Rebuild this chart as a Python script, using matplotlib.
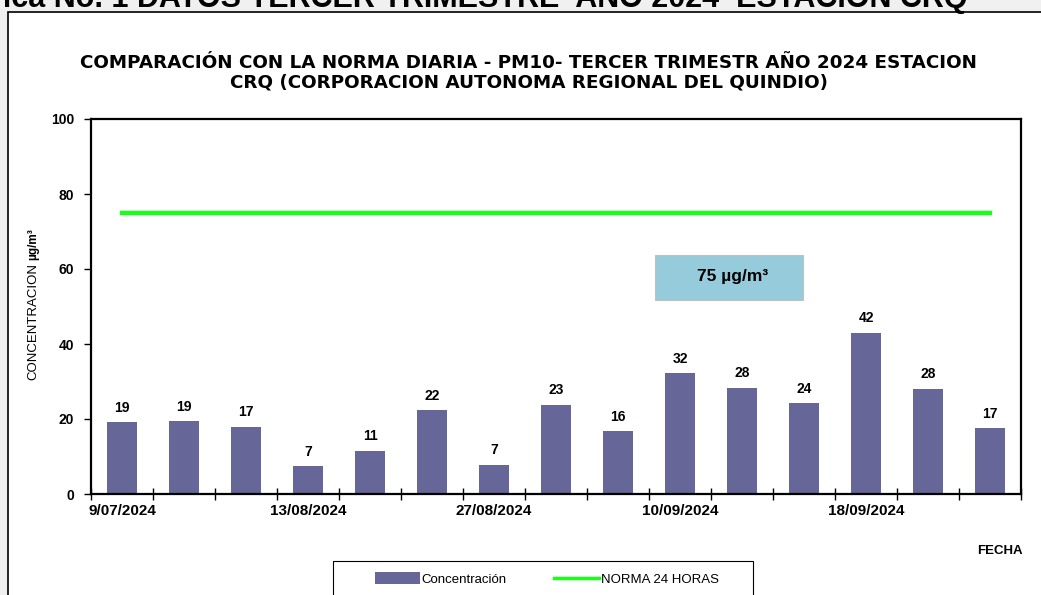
import numpy as np
import matplotlib.pyplot as plt
from matplotlib.patches import Rectangle
from matplotlib.lines import Line2D

# data
fechas = ['9/07/2024', '', '', '13/08/2024', '', '', '27/08/2024', '', '',
          '10/09/2024', '', '', '18/09/2024', '', '']
valores = [19.2, 19.4, 18.0, 7.4, 11.6, 22.3, 7.8, 23.8, 16.7, 32.2, 28.4, 24.2, 43.0, 28.1, 17.6]
etiquetas = ['19', '19', '17', '7', '11', '22', '7', '23', '16', '32', '28', '24', '42', '28', '17']
norma = 75

bar_color = '#666699'
green = '#1aff1a'
W, H = 1041, 595
narrow = ['Liberation Sans Narrow', 'Liberation Sans']

fig = plt.figure(figsize=(W / 100, H / 100), dpi=100, facecolor='#f0f0f0')

# white chart frame
fig.patches.append(Rectangle((8 / W, -0.1), 1.2, 1.1 - 12 / H, transform=fig.transFigure,
                             facecolor='white', edgecolor='black', lw=1.2, zorder=-5))

# cropped heading on top
fig.text(967 / W, 1 - 7 / H, 'Gráfica No. 1 DATOS TERCER TRIMESTRE  AÑO 2024  ESTACION CRQ',
         ha='right', va='baseline', fontsize=22, fontweight='bold', family='Liberation Sans')

ax = fig.add_axes([91 / W, 1 - 494 / H, (1021 - 91) / W, (494 - 119) / H])
ax.set_zorder(2)
ax.set_facecolor('white')

x = np.arange(len(valores))
ax.bar(x, valores, width=0.49, color=bar_color, zorder=2, label='Concentración')
ax.plot([x[0], x[-1]], [norma, norma], color=green, lw=3.2, zorder=3, label='NORMA 24 HORAS')

for xi, v, t in zip(x, valores, etiquetas):
    ax.text(xi, v + 2.0, t, ha='center', va='bottom', fontsize=10, fontweight='bold',
            family='Liberation Sans')

ax.set_xlim(-0.5, len(valores) - 0.5)
ax.set_ylim(0, 100)
ax.set_yticks([0, 20, 40, 60, 80, 100])
ax.set_xticks(np.arange(len(valores) + 1) - 0.5)
ax.set_xticklabels([])
ax.set_xticks(x, minor=True)
ax.set_xticklabels(fechas, minor=True)
ax.tick_params(axis='x', which='major', direction='inout', length=8, width=1)
ax.tick_params(axis='x', which='minor', length=0, pad=7)
ax.tick_params(axis='y', direction='out', length=5, width=1, pad=7)
for lab in ax.get_yticklabels():
    lab.set_fontweight('bold')
    lab.set_family('Liberation Sans')
    lab.set_fontsize(10)
for lab in ax.get_xticklabels(minor=True):
    lab.set_fontweight('bold')
    lab.set_family(narrow)
    lab.set_fontsize(11)
for s in ax.spines.values():
    s.set_linewidth(1.6)

# norma box
ax.add_patch(Rectangle((8.59, 51.7), 2.4, 12.0, facecolor='#96cbdc', edgecolor='#c0c0c0',
                       lw=0.8, zorder=4))
ax.text(9.85, 57.9, '75 µg/m³', ha='center', va='center', fontsize=12.5, fontweight='bold',
        family='Liberation Sans', zorder=5)

# titles
fig.text(529 / W, 1 - 63 / H,
         'COMPARACIÓN CON LA NORMA DIARIA - PM10- TERCER TRIMESTR AÑO 2024 ESTACION',
         ha='center', va='center', fontsize=13.2, fontweight='bold', family='DejaVu Sans')
fig.text(529 / W, 1 - 82 / H, 'CRQ (CORPORACION AUTONOMA REGIONAL DEL QUINDIO)',
         ha='center', va='center', fontsize=13.2, fontweight='bold', family='DejaVu Sans')

fig.text(33 / W, 1 - 322 / H, 'CONCENTRACION', rotation=90, ha='center', va='center',
         fontsize=9.5, family='Liberation Sans')
fig.text(33 / W, 1 - 244 / H, 'µg/m³', rotation=90, ha='center', va='center',
         fontsize=8.5, fontweight='bold', family='Liberation Sans')
fig.text(1000 / W, 1 - 551 / H, 'FECHA', ha='center', va='center', fontsize=9.5,
         fontweight='bold', family=narrow)

# legend
fig.patches.append(Rectangle((333 / W, -0.1), 420 / W, 0.1 + (595 - 561) / H,
                             transform=fig.transFigure, facecolor='white',
                             edgecolor='black', lw=0.8))
handles = [Rectangle((0, 0), 1, 1, facecolor=bar_color),
           Line2D([0], [0], color=green, lw=2.5)]
fig.legend(handles, ['Concentración', 'NORMA 24 HORAS'], ncol=2, frameon=False,
           loc='center', bbox_to_anchor=(547 / W, 1 - 579 / H),
           handlelength=3.4, handleheight=1.0, handletextpad=0.15, columnspacing=3.6,
           prop={'family': narrow, 'size': 9.5})

fig.savefig('out.png', dpi=100, facecolor=fig.get_facecolor())
